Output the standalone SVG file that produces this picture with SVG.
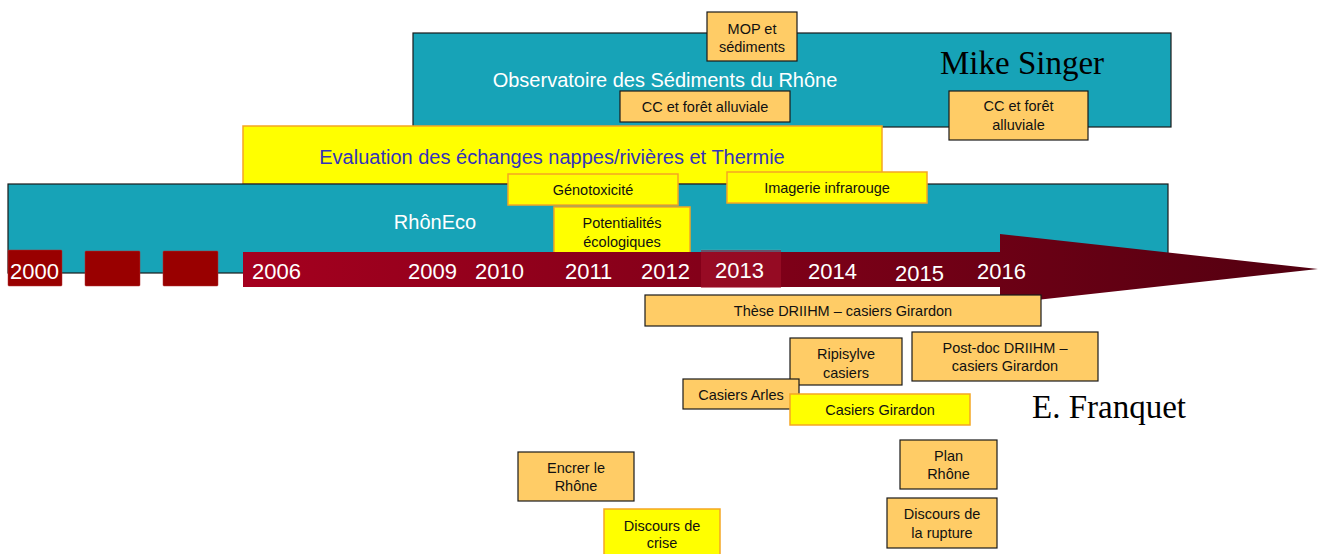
<svg xmlns="http://www.w3.org/2000/svg" width="1318" height="554" viewBox="0 0 1318 554">
<defs>
<linearGradient id="band" gradientUnits="userSpaceOnUse" x1="243" y1="0" x2="1318" y2="0">
<stop offset="0" stop-color="#A5001F"/>
<stop offset="0.5" stop-color="#7E0018"/>
<stop offset="1" stop-color="#520010"/>
</linearGradient>
<style>
.teal{fill:#17A3B7;stroke:#1a1a1a;stroke-width:1.2}
.org{fill:#FFCC66;stroke:#1a1a1a;stroke-width:1.2}
.yel{fill:#FFFF00;stroke:#F5A623;stroke-width:1.5}
.t{font-family:"Liberation Sans",Arial,sans-serif;font-size:14.5px;fill:#111;text-anchor:middle}
.big{font-family:"Liberation Sans",Arial,sans-serif;fill:#fff;text-anchor:middle}
.yr{font-family:"Liberation Sans",Arial,sans-serif;font-size:22px;fill:#fff}
.serif{font-family:"Liberation Serif","Times New Roman",serif;font-size:33px;fill:#000}
.sq{fill:#990000;stroke:#b03030;stroke-width:0.5}
</style>
</defs>

<g id="observatoire">
<rect class="teal" x="413" y="33" width="758" height="94"/>
<text class="big" x="665" y="87" font-size="20">Observatoire des Sédiments du Rhône</text>
</g>
<text class="serif" x="940" y="74">Mike Singer</text>
<g id="mop">
<rect class="org" x="707" y="12" width="90" height="49"/>
<text class="t" x="752" y="34">MOP et</text>
<text class="t" x="752" y="52">sédiments</text>
</g>
<g id="cc1">
<rect class="org" x="620" y="91" width="170" height="31"/>
<text class="t" x="705" y="112">CC et forêt alluviale</text>
</g>
<g id="cc2">
<rect class="org" x="949" y="91" width="139" height="49"/>
<text class="t" x="1018.5" y="111">CC et forêt</text>
<text class="t" x="1018.5" y="130">alluviale</text>
</g>

<g id="evaluation">
<rect class="yel" x="243" y="126" width="639" height="58"/>
<text x="552" y="164" font-family="Liberation Sans, Arial, sans-serif" font-size="20" fill="#3333BB" text-anchor="middle">Evaluation des échanges nappes/rivières et Thermie</text>
</g>

<g id="rhoneco">
<rect class="teal" x="8" y="184" width="1160" height="89"/>
<text class="big" x="435" y="229" font-size="20">RhônEco</text>
</g>

<g id="genotox">
<rect class="yel" x="508" y="174" width="170" height="31"/>
<text class="t" x="593" y="195" font-size="13.8">Génotoxicité</text>
</g>
<g id="imagerie">
<rect class="yel" x="727" y="172" width="200" height="31"/>
<text class="t" x="827" y="193">Imagerie infrarouge</text>
</g>
<g id="potentialites">
<rect class="yel" x="554" y="207" width="136" height="50"/>
<text class="t" x="622" y="228">Potentialités</text>
<text class="t" x="622" y="247">écologiques</text>
</g>

<g id="timeline">
<rect class="sq" x="8" y="250" width="54" height="36" rx="1"/>
<rect class="sq" x="85" y="251" width="55" height="35" rx="1"/>
<rect class="sq" x="163" y="251" width="55" height="35" rx="1"/>
<path d="M243 252 H1000 V234 L1318 269 L1000 304 V287 H243 Z" fill="url(#band)"/>
<rect x="701" y="249" width="80" height="39" fill="#A8142E" opacity="0.55"/>
<line x1="701" y1="249.5" x2="781" y2="249.5" stroke="#2AA6B5" stroke-width="1"/>
<text class="yr" x="10" y="279">2000</text>
<text class="yr" x="252" y="279">2006</text>
<text class="yr" x="408" y="279">2009</text>
<text class="yr" x="475" y="279">2010</text>
<text class="yr" x="565" y="279">2011</text>
<text class="yr" x="641" y="279">2012</text>
<text class="yr" x="715" y="278" fill="#EFC8D0">2013</text>
<text class="yr" x="808" y="279">2014</text>
<text class="yr" x="895" y="281">2015</text>
<text class="yr" x="977" y="279">2016</text>
</g>

<g id="these">
<rect class="org" x="645" y="295" width="396" height="31"/>
<text class="t" x="843" y="316">Thèse DRIIHM – casiers Girardon</text>
</g>
<g id="ripisylve">
<rect class="org" x="790" y="338" width="112" height="47"/>
<text class="t" x="846" y="359">Ripisylve</text>
<text class="t" x="846" y="378">casiers</text>
</g>
<g id="postdoc">
<rect class="org" x="912" y="332" width="186" height="49"/>
<text class="t" x="1005" y="353">Post-doc DRIIHM –</text>
<text class="t" x="1005" y="371">casiers Girardon</text>
</g>
<g id="arles">
<rect class="org" x="683" y="379" width="116" height="30"/>
<text class="t" x="741" y="400">Casiers Arles</text>
</g>
<g id="girardon">
<rect class="yel" x="790" y="394" width="180" height="31"/>
<text class="t" x="880" y="415">Casiers Girardon</text>
</g>
<text class="serif" x="1032" y="418">E. Franquet</text>

<g id="encrer">
<rect class="org" x="518" y="452" width="116" height="49"/>
<text class="t" x="576" y="473">Encrer le</text>
<text class="t" x="576" y="491">Rhône</text>
</g>
<g id="crise">
<rect class="yel" x="604" y="509" width="116" height="52"/>
<text class="t" x="662" y="531">Discours de</text>
<text class="t" x="662" y="548">crise</text>
</g>
<g id="plan">
<rect class="org" x="900" y="440" width="97" height="49"/>
<text class="t" x="948.5" y="461">Plan</text>
<text class="t" x="948.5" y="479">Rhône</text>
</g>
<g id="rupture">
<rect class="org" x="887" y="498" width="110" height="50"/>
<text class="t" x="942" y="519">Discours de</text>
<text class="t" x="942" y="538">la rupture</text>
</g>
<g id="connectors"></g>
</svg>
